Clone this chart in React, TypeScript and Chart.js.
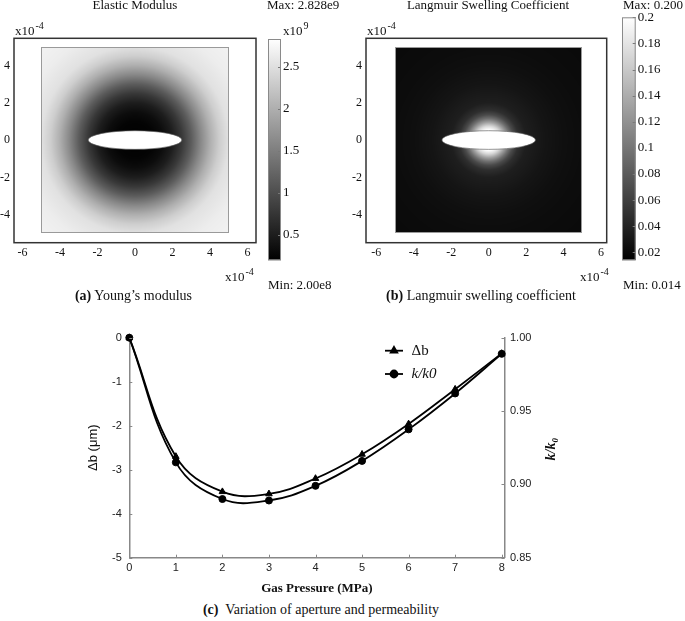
import React, { useEffect, useRef } from 'react';
import { Chart, registerables } from 'chart.js';
import { drawPoint } from 'chart.js/helpers';

Chart.register(...registerables);

const SERIF = '"Liberation Serif", "Times New Roman", "DejaVu Serif", serif';
const SANS = '"Liberation Sans", Arial, "DejaVu Sans", sans-serif';

// ---------- Panel (c) data ----------
const pressure = [0, 1, 2, 3, 4, 5, 6, 7, 8];
const deltaB = [0, -2.7, -3.5, -3.55, -3.2, -2.65, -1.96, -1.17, -0.36];
const kRatio = [1.0, 0.915, 0.89, 0.889, 0.899, 0.916, 0.9375, 0.962, 0.989];
const pressureTicks = [0, 1, 2, 3, 4, 5, 6, 7, 8];
const deltaBTicks = [-5, -4, -3, -2, -1, 0];
const kRatioTicks = [0.85, 0.9, 0.95, 1.0];
const seriesLabels = ['\u0394b', 'k/k0'];

// ---------- Panels (a) and (b) data (coordinates in x10^-4) ----------
const coordTicksX = [-6, -4, -2, 0, 2, 4, 6];
const coordTicksY = [-4, -2, 0, 2, 4];
const domainHalf = 5;
const holeSemiAxes = [2.5, 0.5];

// Young's modulus (x10^9) versus distance from the fracture centre
const modulusRadii = [0, 1, 1.5, 2, 2.5, 3, 3.5, 4, 4.5, 5, 6, 7.1];
const modulusProfile = [0.2, 0.24, 0.33, 0.5, 0.78, 1.15, 1.6, 2.0, 2.32, 2.52, 2.64, 2.7];
const modulusRange = [0.2, 2.828];
const modulusBarTicks = [0.5, 1, 1.5, 2, 2.5];

// Langmuir swelling coefficient versus distance from the fracture centre
const swellRadii = [0, 0.55, 0.75, 0.95, 1.15, 1.35, 1.6, 2, 3, 4, 5, 7.1];
const swellProfile = [0.2, 0.2, 0.17, 0.13, 0.095, 0.068, 0.048, 0.036, 0.029, 0.025, 0.023, 0.021];
const swellRange = [0.014, 0.2];
const swellBarTicks = [0.02, 0.04, 0.06, 0.08, 0.1, 0.12, 0.14, 0.16, 0.18, 0.2];

function interp(rs: number[], vs: number[], r: number) {
  if (r <= rs[0]) return vs[0];
  for (let i = 1; i < rs.length; i++) {
    if (r <= rs[i]) {
      const t = (r - rs[i - 1]) / (rs[i] - rs[i - 1]);
      return vs[i - 1] + t * (vs[i] - vs[i - 1]);
    }
  }
  return vs[vs.length - 1];
}

function makeHeatPlugin(radii: number[], profile: number[], range: number[]) {
  return {
    id: 'heatField',
    beforeDatasetsDraw(chart: any) {
      const { ctx, chartArea: a } = chart;
      const xs = chart.scales.x;
      const ys = chart.scales.y;
      ctx.save();
      const x0 = Math.round(xs.getPixelForValue(-domainHalf));
      const x1 = Math.round(xs.getPixelForValue(domainHalf));
      const y0 = Math.round(ys.getPixelForValue(domainHalf));
      const y1 = Math.round(ys.getPixelForValue(-domainHalf));
      const w = x1 - x0;
      const h = y1 - y0;
      const off = document.createElement('canvas');
      off.width = w;
      off.height = h;
      const octx = off.getContext('2d')!;
      const img = octx.createImageData(w, h);
      for (let j = 0; j < h; j++) {
        const vy = ys.getValueForPixel(y0 + j + 0.5);
        for (let i = 0; i < w; i++) {
          const vx = xs.getValueForPixel(x0 + i + 0.5);
          const v = interp(radii, profile, Math.hypot(vx, vy));
          let t = (v - range[0]) / (range[1] - range[0]);
          t = Math.max(0, Math.min(1, t));
          const g = Math.round(t * 255);
          const k = (j * w + i) * 4;
          img.data[k] = g;
          img.data[k + 1] = g;
          img.data[k + 2] = g;
          img.data[k + 3] = 255;
        }
      }
      octx.putImageData(img, 0, 0);
      ctx.drawImage(off, x0, y0);
      const cx = xs.getPixelForValue(0);
      const cy = ys.getPixelForValue(0);
      const rx = xs.getPixelForValue(holeSemiAxes[0]) - cx;
      const ry = cy - ys.getPixelForValue(holeSemiAxes[1]);
      ctx.beginPath();
      ctx.ellipse(cx, cy, rx, ry, 0, 0, Math.PI * 2);
      ctx.fillStyle = '#ffffff';
      ctx.fill();
      ctx.strokeStyle = 'rgba(90,90,90,0.8)';
      ctx.lineWidth = 0.8;
      ctx.stroke();
      ctx.strokeStyle = '#9a9a9a';
      ctx.lineWidth = 1;
      ctx.strokeRect(x0 + 0.5, y0 + 0.5, w - 1, h - 1);
      ctx.strokeStyle = '#333';
      ctx.lineWidth = 1.5;
      ctx.strokeRect(a.left, a.top, a.right - a.left, a.bottom - a.top);
      ctx.restore();
    },
  };
}

function heatConfig(xRange: number[], rightPad: number, radii: number[], profile: number[], range: number[]) {
  return {
    type: 'scatter',
    data: { datasets: [{ data: [] }] },
    options: {
      animation: false,
      responsive: false,
      events: [],
      layout: { padding: { top: 38.3, right: rightPad, left: 0, bottom: 0 } },
      plugins: { legend: { display: false }, tooltip: { enabled: false } },
      scales: {
        x: {
          type: 'linear',
          min: xRange[0],
          max: xRange[1],
          afterBuildTicks: (s: any) => { s.ticks = coordTicksX.map((v) => ({ value: v })); },
          afterFit: (s: any) => { s.height = 27.3; },
          grid: { display: false, drawTicks: false },
          border: { display: false },
          ticks: { font: { family: SERIF, size: 12 }, color: '#111', padding: 3, maxRotation: 0, autoSkip: false },
        },
        y: {
          type: 'linear',
          min: -5.5,
          max: 5.45,
          afterBuildTicks: (s: any) => { s.ticks = coordTicksY.map((v) => ({ value: v })); },
          afterFit: (s: any) => { s.width = 14; },
          grid: { display: false, drawTicks: false },
          border: { display: false },
          ticks: { font: { family: SERIF, size: 12 }, color: '#111', padding: 4, autoSkip: false },
        },
      },
    },
    plugins: [makeHeatPlugin(radii, profile, range)],
  };
}

const colorBarPlugin = {
  id: 'colorBar',
  beforeDatasetsDraw(chart: any) {
    const { ctx, chartArea: a } = chart;
    const ys = chart.scales.y;
    ctx.save();
    const grad = ctx.createLinearGradient(0, a.bottom, 0, a.top);
    grad.addColorStop(0, '#000');
    grad.addColorStop(1, '#fff');
    ctx.fillStyle = grad;
    ctx.fillRect(a.left, a.top, a.right - a.left, a.bottom - a.top);
    ctx.strokeStyle = '#777';
    ctx.lineWidth = 1;
    ys.ticks.forEach((t: any) => {
      const py = Math.round(ys.getPixelForValue(t.value)) + 0.5;
      ctx.beginPath();
      ctx.moveTo(a.right - 3, py);
      ctx.lineTo(a.right, py);
      ctx.stroke();
    });
    ctx.strokeStyle = '#8a8a8a';
    ctx.strokeRect(a.left + 0.5, a.top + 0.5, a.right - a.left - 1, a.bottom - a.top - 1);
    ctx.restore();
  },
};

function barConfig(range: number[], ticks: number[], top: number, bottom: number, axisWidth: number) {
  return {
    type: 'scatter',
    data: { datasets: [{ data: [] }] },
    options: {
      animation: false,
      responsive: false,
      events: [],
      layout: { padding: { top, bottom, left: 0, right: 0 } },
      plugins: { legend: { display: false }, tooltip: { enabled: false } },
      scales: {
        x: { type: 'linear', display: false, min: 0, max: 1 },
        y: {
          type: 'linear',
          position: 'right',
          min: range[0],
          max: range[1],
          afterBuildTicks: (s: any) => { s.ticks = ticks.map((v) => ({ value: v })); },
          afterFit: (s: any) => { s.width = axisWidth; },
          grid: { display: false, drawTicks: false },
          border: { display: false },
          ticks: {
            font: { family: SERIF, size: 13 },
            color: '#111',
            padding: 2,
            autoSkip: false,
            callback: (v: any) => String(Number(Number(v).toFixed(3))),
          },
        },
      },
    },
    plugins: [colorBarPlugin],
  };
}

const lineExtrasPlugin = {
  id: 'lineExtras',
  afterDraw(chart: any) {
    const { ctx, chartArea: a } = chart;
    const { x, y, y1 } = chart.scales;
    ctx.save();
    ctx.strokeStyle = '#888';
    ctx.lineWidth = 1;
    x.ticks.forEach((t: any) => {
      const px = Math.round(x.getPixelForValue(t.value)) + 0.5;
      ctx.beginPath();
      ctx.moveTo(px, a.bottom);
      ctx.lineTo(px, a.bottom - 3);
      ctx.stroke();
    });
    y.ticks.forEach((t: any) => {
      const py = Math.round(y.getPixelForValue(t.value)) + 0.5;
      ctx.beginPath();
      ctx.moveTo(a.left, py);
      ctx.lineTo(a.left + 3, py);
      ctx.stroke();
    });
    y1.ticks.forEach((t: any) => {
      const py = Math.round(y1.getPixelForValue(t.value)) + 0.5;
      ctx.beginPath();
      ctx.moveTo(a.right, py);
      ctx.lineTo(a.right - 3, py);
      ctx.stroke();
    });

    // legend
    const rows = [a.top + 13, a.top + 36.3];
    const lx0 = a.left + 255.7;
    const lx1 = a.left + 273.7;
    chart.data.datasets.forEach((ds: any, i: number) => {
      const ry = rows[i];
      ctx.strokeStyle = '#000';
      ctx.lineWidth = 1.8;
      ctx.beginPath();
      ctx.moveTo(lx0, ry);
      ctx.lineTo(lx1, ry);
      ctx.stroke();
      ctx.fillStyle = '#000';
      drawPoint(ctx, { pointStyle: ds.pointStyle, radius: ds.pointRadius, rotation: 0, borderWidth: 1 }, (lx0 + lx1) / 2, ry);
      ctx.fillStyle = '#111';
      ctx.textBaseline = 'middle';
      ctx.textAlign = 'left';
      ctx.font = (i === 1 ? 'italic ' : '') + '15px ' + SERIF;
      ctx.fillText(ds.label, lx1 + 8.5, ry);
    });

    // right axis title k/k0 (rotated, reading upward)
    ctx.translate(a.right + 47, (a.top + a.bottom) / 2 + 1.5);
    ctx.rotate(-Math.PI / 2);
    ctx.fillStyle = '#111';
    ctx.textBaseline = 'middle';
    ctx.textAlign = 'left';
    const mainFont = 'italic bold 14px ' + SERIF;
    const subFont = 'italic bold 9px ' + SERIF;
    ctx.font = mainFont;
    const w1 = ctx.measureText('k/k').width;
    ctx.font = subFont;
    const w2 = ctx.measureText('0').width;
    const sx = -(w1 + w2) / 2;
    ctx.font = mainFont;
    ctx.fillText('k/k', sx, 0);
    ctx.font = subFont;
    ctx.fillText('0', sx + w1, 4);
    ctx.restore();
  },
};

function lineConfig() {
  const tickFont = { family: SANS, size: 11 };
  return {
    type: 'line',
    data: {
      datasets: [
        {
          label: seriesLabels[0],
          data: pressure.map((p, i) => ({ x: p, y: deltaB[i] })),
          yAxisID: 'y',
          borderColor: '#000',
          backgroundColor: '#000',
          borderWidth: 1.8,
          pointStyle: 'triangle',
          pointRadius: 3.8,
          pointBorderWidth: 1,
          tension: 0.4,
          clip: false,
        },
        {
          label: seriesLabels[1],
          data: pressure.map((p, i) => ({ x: p, y: kRatio[i] })),
          yAxisID: 'y1',
          borderColor: '#000',
          backgroundColor: '#000',
          borderWidth: 1.8,
          pointStyle: 'circle',
          pointRadius: 3.5,
          pointBorderWidth: 1,
          tension: 0.4,
          clip: false,
        },
      ],
    },
    options: {
      animation: false,
      responsive: false,
      events: [],
      layout: { padding: { top: 27.7, right: 0, left: 0, bottom: 0 } },
      plugins: { legend: { display: false }, tooltip: { enabled: false } },
      scales: {
        x: {
          type: 'linear',
          min: 0,
          max: 8.06,
          afterBuildTicks: (s: any) => { s.ticks = pressureTicks.map((v) => ({ value: v })); },
          afterFit: (s: any) => { s.height = 42.3; },
          grid: { display: false, drawTicks: false },
          border: { color: '#888', width: 1.5 },
          ticks: { font: tickFont, color: '#222', padding: 3.7, maxRotation: 0, autoSkip: false },
          title: {
            display: true,
            text: 'Gas Pressure (MPa)',
            color: '#111',
            font: { family: SERIF, size: 13, weight: 'bold' },
            padding: { top: 0, bottom: 4 },
          },
        },
        y: {
          type: 'linear',
          position: 'left',
          min: -5,
          max: 0,
          afterBuildTicks: (s: any) => { s.ticks = deltaBTicks.map((v) => ({ value: v })); },
          afterFit: (s: any) => { s.width = 129.3; },
          grid: { display: false, drawTicks: false },
          border: { color: '#888', width: 1.5 },
          ticks: { font: tickFont, color: '#222', padding: 7.5, autoSkip: false },
          title: {
            display: true,
            text: '\u0394b (\u03bcm)',
            color: '#111',
            font: { family: SANS, size: 13 },
            padding: { top: 86, bottom: 0 },
          },
        },
        y1: {
          type: 'linear',
          position: 'right',
          min: 0.85,
          max: 1.0,
          afterBuildTicks: (s: any) => { s.ticks = kRatioTicks.map((v) => ({ value: v })); },
          afterFit: (s: any) => { s.width = 115.5; },
          grid: { display: false, drawTicks: false },
          border: { color: '#888', width: 1.5 },
          ticks: { font: tickFont, color: '#222', padding: 5.5, autoSkip: false, callback: (v: any) => Number(v).toFixed(2) },
        },
      },
    },
    plugins: [lineExtrasPlugin],
  };
}

function ChartBox({ left, top, width, height, make }: { left: number; top: number; width: number; height: number; make: () => any }) {
  const ref = useRef<HTMLCanvasElement>(null);
  useEffect(() => {
    const chart = new Chart(ref.current as HTMLCanvasElement, make());
    return () => chart.destroy();
  }, []);
  return (
    <canvas
      ref={ref}
      width={width}
      height={height}
      style={{ position: 'absolute', left, top, width, height, display: 'block' }}
    />
  );
}

function Txt({ left, top, size, children, style }: any) {
  return (
    <div style={{ position: 'absolute', left, top, fontSize: size, lineHeight: '14px', whiteSpace: 'nowrap', color: '#111', ...style }}>
      {children}
    </div>
  );
}

function Sci({ base, exp }: { base: string; exp: string }) {
  return (
    <span>
      {base}
      <span style={{ fontSize: 10, position: 'relative', top: -6, marginLeft: 1 }}>{exp}</span>
    </span>
  );
}

function Centered({ cx, top, size, children, style }: any) {
  return (
    <div
      style={{
        position: 'absolute',
        left: cx - 200,
        width: 400,
        top,
        textAlign: 'center',
        fontSize: size,
        lineHeight: '16px',
        whiteSpace: 'nowrap',
        color: '#111',
        ...style,
      }}
    >
      {children}
    </div>
  );
}

export default function App() {
  return (
    <div
      style={{
        position: 'fixed',
        left: 0,
        top: 0,
        width: 685,
        height: 621,
        background: '#fff',
        overflow: 'hidden',
        fontFamily: SERIF,
      }}
    >
      {/* Panel (a) */}
      <ChartBox left={0} top={0} width={265} height={270} make={() => heatConfig([-6.45, 6.45], 9, modulusRadii, modulusProfile, modulusRange)} />
      <ChartBox left={268} top={0} width={60} height={270} make={() => barConfig(modulusRange, modulusBarTicks, 39, 9, 47)} />
      <Centered cx={135} top={-2} size={13} style={{ lineHeight: '14px' }}>Elastic Modulus</Centered>
      <Txt left={267} top={-2} size={13}>Max: 2.828e9</Txt>
      <Txt left={15} top={24} size={13}><Sci base="x10" exp="-4" /></Txt>
      <Txt left={283} top={24} size={13}><Sci base="x10" exp="9" /></Txt>
      <Txt left={225} top={270} size={13}><Sci base="x10" exp="-4" /></Txt>
      <Txt left={268} top={278} size={13}>Min: 2.00e8</Txt>
      <Centered cx={133.5} top={288} size={14}><b>(a)</b> Young&#8217;s modulus</Centered>

      {/* Panel (b) */}
      <ChartBox left={352} top={0} width={265} height={270} make={() => heatConfig([-6.55, 6.3], 10.3, swellRadii, swellProfile, swellRange)} />
      <ChartBox left={622} top={0} width={63} height={270} make={() => barConfig(swellRange, swellBarTicks, 17.3, 9, 49.3)} />
      <Centered cx={488} top={-2} size={13} style={{ lineHeight: '14px' }}>Langmuir Swelling Coefficient</Centered>
      <Txt left={623} top={-2} size={13}>Max: 0.200</Txt>
      <Txt left={367} top={24} size={13}><Sci base="x10" exp="-4" /></Txt>
      <Txt left={580} top={270} size={13}><Sci base="x10" exp="-4" /></Txt>
      <Txt left={623} top={278} size={13}>Min: 0.014</Txt>
      <Centered cx={481} top={288} size={14}><b>(b)</b> Langmuir swelling coefficient</Centered>

      {/* Panel (c) */}
      <ChartBox left={0} top={310} width={620} height={290} make={lineConfig} />
      <Centered cx={321} top={602} size={14}><b>(c)</b>&nbsp; Variation of aperture and permeability</Centered>
    </div>
  );
}
